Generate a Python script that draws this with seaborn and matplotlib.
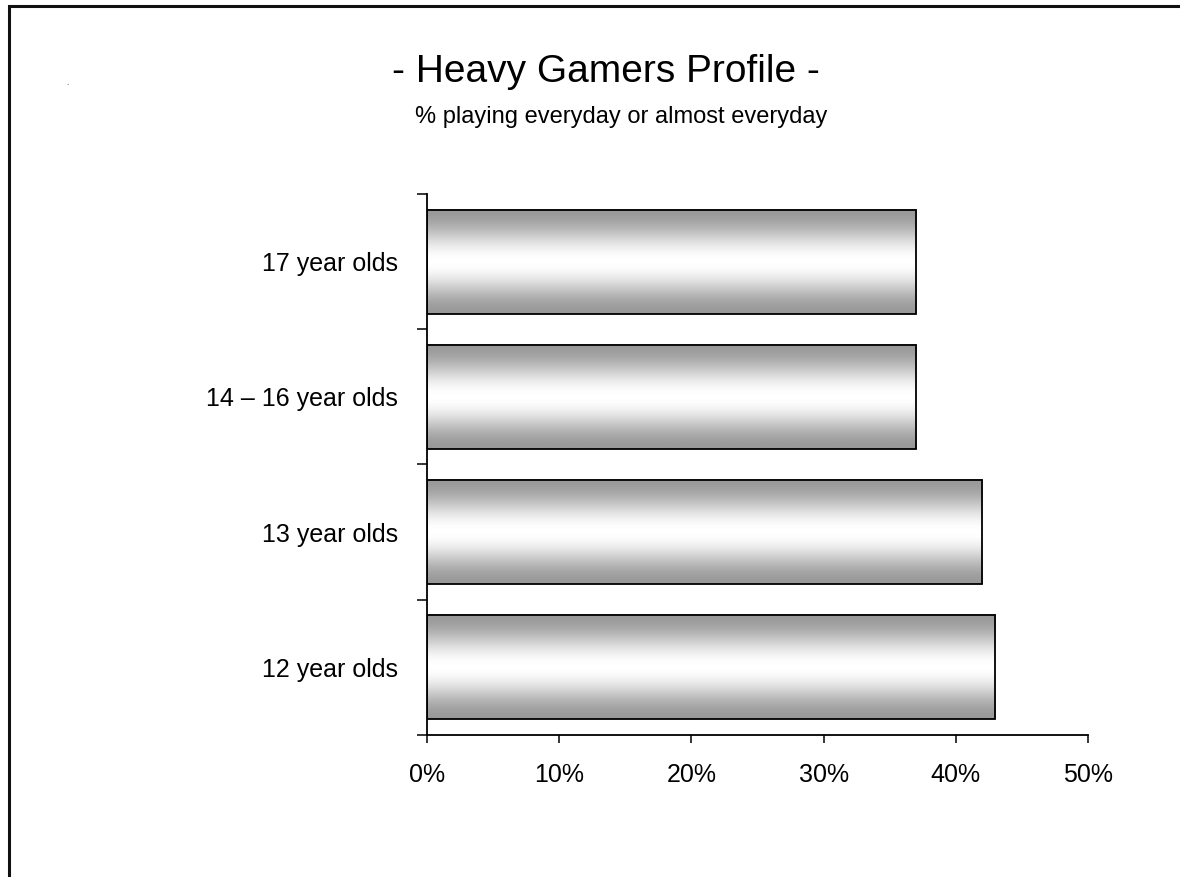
import numpy as np
import pandas as pd
import matplotlib
matplotlib.use("Agg")
import matplotlib.pyplot as plt
import seaborn as sns
from matplotlib.patches import Rectangle

# Share of each age group playing everyday or almost everyday
age_groups = ["17 year olds", "14 \u2013 16 year olds", "13 year olds", "12 year olds"]
share_pct = [37, 37, 42, 43]
x_ticks = [0, 10, 20, 30, 40, 50]
x_tick_labels = ["0%", "10%", "20%", "30%", "40%", "50%"]

title_text = "- Heavy Gamers Profile -"
subtitle_text = "% playing everyday or almost everyday"

df = pd.DataFrame({"group": age_groups, "share": share_pct})

sns.set_theme(style="white")
plt.rcParams["font.family"] = ["Liberation Sans", "DejaVu Sans"]

W, H = 1180, 877
fig = plt.figure(figsize=(W / 100, H / 100), dpi=100)
fig.patch.set_facecolor("white")

ax = fig.add_axes([427 / W, 1 - 735 / H, 661 / W, 541 / H])
sns.barplot(data=df, x="share", y="group", order=age_groups, orient="h",
            width=0.77, color="white", edgecolor="black", linewidth=1.3,
            saturation=1, ax=ax)

# Metallic shading: grey at the top and bottom edges, white in the middle
t = np.linspace(-1, 1, 256)
shade = 0.6 + 0.4 * np.cos(np.pi / 2 * t) ** 2
grad = np.repeat(shade[:, None], 2, axis=1)
for bar in ax.patches:
    x0, y0 = bar.get_x(), bar.get_y()
    w, h = bar.get_width(), bar.get_height()
    bar.set_facecolor("none")
    bar.set_zorder(3)
    ax.imshow(grad, cmap="gray", vmin=0, vmax=1, aspect="auto",
              extent=(x0, x0 + w, y0 + h, y0), interpolation="bilinear",
              zorder=2)

ax.set_xlim(0, 50)
ax.set_ylim(len(age_groups) - 0.5, -0.5)
ax.set_xticks(x_ticks)
ax.set_xticklabels(x_tick_labels)
ax.set_yticks(range(len(age_groups)))
ax.set_yticklabels(age_groups)
ax.set_yticks(np.arange(-0.5, len(age_groups)), minor=True)
ax.set_xlabel("")
ax.set_ylabel("")

for side in ("top", "right"):
    ax.spines[side].set_visible(False)
for side in ("left", "bottom"):
    ax.spines[side].set_color("black")
    ax.spines[side].set_linewidth(1.3)

ax.tick_params(axis="x", which="major", direction="out", length=6, width=1.1,
               color="black", labelsize=18, pad=14, bottom=True)
ax.tick_params(axis="y", which="major", length=0, labelsize=18, pad=21,
               left=True)
ax.tick_params(axis="y", which="minor", direction="out", length=7.5,
               width=1.1, color="black", left=True)
for lbl in ax.get_xticklabels() + ax.get_yticklabels():
    lbl.set_color("black")

fig.text(606 / W, 1 - 72 / H, title_text, ha="center", va="center",
         fontsize=28, color="black")
fig.text(621 / W, 1 - 117 / H, subtitle_text, ha="center", va="center",
         fontsize=17, color="black")
fig.text(67 / W, 1 - 85 / H, ".", ha="center", va="baseline",
         fontsize=6, color="#333333")

# Page frame running off the right and bottom edges
fig.patches.append(Rectangle((9 / W, -0.05), 1.2, 1 - 6 / H + 0.05,
                             transform=fig.transFigure, fill=False,
                             edgecolor="#111111", linewidth=2.2))

fig.savefig("out.png", dpi=100, facecolor="white")
